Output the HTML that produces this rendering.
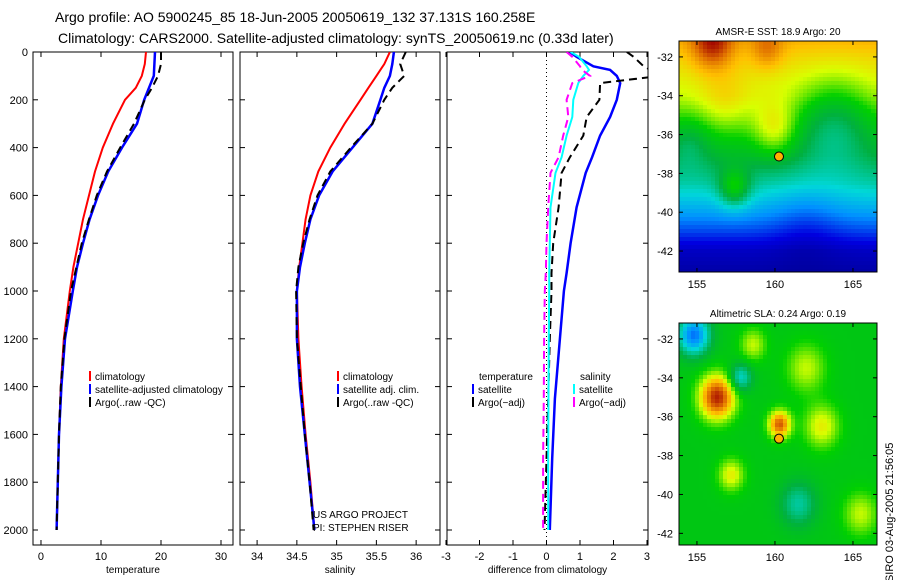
<!DOCTYPE html>
<html><head><meta charset="utf-8"><style>
body{margin:0;background:#fff}
svg{display:block;font-family:"Liberation Sans",sans-serif}
</style></head><body>
<svg id="c" width="900" height="580" xmlns="http://www.w3.org/2000/svg">
<text x="55" y="22" font-size="14">Argo profile: AO 5900245_85 18-Jun-2005 20050619_132 37.131S 160.258E</text>
<text x="58" y="43" font-size="14">Climatology: CARS2000. Satellite-adjusted climatology: synTS_20050619.nc (0.33d later)</text>
<text transform="translate(893,590) rotate(-90)" font-size="11">CSIRO 03-Aug-2005 21:56:05</text>
</svg>
<script>
const depths=[0,50,100,150,200,300,400,500,600,700,800,900,1000,1200,1400,1600,1800,2000];
const tClim=[17.5,17.3,16.8,15.8,14.0,12.0,10.3,9.0,8.0,7.0,6.2,5.4,4.8,3.8,3.3,3.0,2.8,2.6];
const tSat=[19.0,18.9,18.8,18.0,17.2,16.0,13.5,11.2,9.5,8.1,7.0,6.0,5.3,4.0,3.4,3.0,2.8,2.6];
const tArgo=[20.0,20.0,19.5,18.5,17.3,15.5,13.2,11.0,9.3,8.0,6.8,5.9,5.0,3.9,3.3,3.0,2.8,2.6];
const sClim=[35.67,35.6,35.5,35.4,35.3,35.1,34.92,34.77,34.67,34.61,34.57,34.53,34.5,34.52,34.56,34.61,34.67,34.72];
const sSat=[35.72,35.7,35.67,35.6,35.55,35.45,35.2,34.95,34.78,34.67,34.6,34.54,34.5,34.5,34.54,34.6,34.66,34.72];
const sArgo=[35.87,35.8,35.85,35.7,35.6,35.45,35.18,34.92,34.76,34.66,34.58,34.52,34.49,34.5,34.55,34.6,34.66,34.71];
const dDepths=[0,20,60,75,100,130,200,272,350,440,506,650,800,925,1000,1200,1450,1700,2000];
const dTsat=[0.7,0.9,1.4,1.9,2.1,2.2,2.1,1.9,1.6,1.36,1.17,0.9,0.72,0.6,0.52,0.4,0.25,0.17,0.1];
const dTargo=[2.4,2.6,2.9,3.1,3.4,1.6,1.58,1.2,1.1,0.7,0.45,0.36,0.2,0.15,0.15,0.1,0.05,0.0,-0.06];
const dSsat=[0.72,0.97,1.2,1.27,1.1,0.95,0.8,0.77,0.6,0.45,0.27,0.12,0.1,0.08,0.08,0.07,0.06,0.05,0.05];
const dSargo=[0.6,0.77,1.0,1.06,1.3,0.77,0.6,0.65,0.5,0.36,0.12,0.05,0.0,-0.02,-0.05,-0.07,-0.08,-0.1,-0.1];
const tTicks=[0,10,20,30], sTicks=[34,34.5,35,35.5,36], dTicks=[-3,-2,-1,0,1,2,3], zTicks=[0,200,400,600,800,1000,1200,1400,1600,1800,2000];
const latTicks=[-32,-34,-36,-38,-40,-42], lonTicks=[155,160,165];
const sstLat=[-43.5,-42,-41,-40,-38.5,-37,-35.5,-34,-32,-31];
const sstBase=[0.03,0.1,0.22,0.33,0.47,0.58,0.66,0.74,0.8,0.84];

const svg=document.getElementById('c');const NS='http://www.w3.org/2000/svg';
function mk(t,a,p){const e=document.createElementNS(NS,t);for(const k in a)e.setAttribute(k,a[k]);(p||svg).appendChild(e);return e;}
const yOf=d=>52+d*0.239;
const Y0=52,Y1=545;
function panel(x0,x1,xmin,xmax,ticks,label,name,showY,tickFmt){
  const g=mk('g',{});
  const sx=v=>x0+(v-xmin)/(xmax-xmin)*(x1-x0);
  const clipId=name+'-clip';const cp=mk('clipPath',{id:clipId},g);mk('rect',{x:x0,y:Y0,width:x1-x0,height:Y1-Y0},cp);
  ticks.forEach(t=>{const x=sx(t);mk('line',{x1:x,x2:x,y1:Y1,y2:Y1-5,stroke:'#000'},g);mk('line',{x1:x,x2:x,y1:Y0,y2:Y0+5,stroke:'#000'},g);
    const tx=mk('text',{x:x,y:Y1+15,'font-size':11,'text-anchor':'middle'},g);tx.textContent=tickFmt?tickFmt(t):t;
    });
  zTicks.forEach(z=>{const y=yOf(z);mk('line',{x1:x0,x2:x0+5,y1:y,y2:y,stroke:'#000'},g);mk('line',{x1:x1,x2:x1-5,y1:y,y2:y,stroke:'#000'},g);
    if(showY){const tx=mk('text',{x:x0-5,y:y+4,'font-size':11,'text-anchor':'end'},g);tx.textContent=z;
    }});
  const xl=mk('text',{x:(x0+x1)/2,y:Y1+28,'font-size':10,'text-anchor':'middle'},g);xl.textContent=label;
  
  mk('rect',{x:x0,y:Y0,width:x1-x0,height:Y1-Y0,fill:'none',stroke:'#000'},g);
  return {g,sx,clipId};
}
function series(P,vals,dep,color,dash,w,name){
  const pts=vals.map((v,i)=>P.sx(v).toFixed(1)+','+yOf(dep[i]).toFixed(1)).join(' ');
  const l=mk('polyline',{points:pts,fill:'none',stroke:color,'stroke-width':w,'clip-path':'url(#'+P.clipId+')'},P.g);
  if(dash)l.setAttribute('stroke-dasharray',dash);
  
}
function legend(P,x,y,items){
  items.forEach((it,i)=>{const yy=y+i*13;mk('line',{x1:x,x2:x,y1:yy-5,y2:yy+5,stroke:it[1],'stroke-width':2},P.g);
    const t=mk('text',{x:x+5,y:yy+4,'font-size':10},P.g);t.textContent=it[0];
    });
}
const P1=panel(33,233,-1.33,32,tTicks,'temperature','temperature-panel',true);
series(P1,tClim,depths,'#f00',null,2,'temp-climatology-line');
series(P1,tSat,depths,'#00f',null,2.5,'temp-satellite-line');
series(P1,tArgo,depths,'#000','8,5',2,'temp-argo-line');
legend(P1,90,376,[['climatology','#f00'],['satellite-adjusted climatology','#00f'],['Argo(..raw  -QC)','#000']]);
const P2=panel(240,440,33.785,36.3,sTicks,'salinity','salinity-panel',false);
series(P2,sClim,depths,'#f00',null,2,'sal-climatology-line');
series(P2,sSat,depths,'#00f',null,2.5,'sal-satellite-line');
series(P2,sArgo,depths,'#000','8,5',2,'sal-argo-line');
legend(P2,338,376,[['climatology','#f00'],['satellite adj. clim.','#00f'],['Argo(..raw  -QC)','#000']]);
let t=mk('text',{x:313,y:518,'font-size':10});t.textContent='US ARGO PROJECT';
t=mk('text',{x:313,y:531,'font-size':10});t.textContent='PI: STEPHEN RISER';
const P3=panel(447,648,-2.97,3.03,dTicks,'difference from climatology','difference-panel',false,v=>v);
mk('line',{x1:P3.sx(0),x2:P3.sx(0),y1:Y0,y2:Y1,stroke:'#000','stroke-dasharray':'1,3'},P3.g);
series(P3,dTsat,dDepths,'#00f',null,2.5,'diff-temp-satellite-line');
series(P3,dTargo,dDepths,'#000','8,5',2,'diff-temp-argo-line');
series(P3,dSsat,dDepths,'#0ff',null,2,'diff-sal-satellite-line');
series(P3,dSargo,dDepths,'#f0f','8,5',2,'diff-sal-argo-line');
t=mk('text',{x:479,y:380,'font-size':10},P3.g);t.textContent='temperature';
t=mk('text',{x:580,y:380,'font-size':10},P3.g);t.textContent='salinity';
legend(P3,473,389,[['satellite','#00f'],['Argo(−adj)','#000']]);
legend(P3,574,389,[['satellite','#0ff'],['Argo(−adj)','#f0f']]);

// maps
const stops=[[0,[0,0,138]],[0.15,[0,0,224]],[0.3,[0,144,255]],[0.42,[0,216,216]],[0.55,[0,176,64]],[0.65,[0,208,0]],[0.75,[216,255,0]],[0.82,[255,192,0]],[0.9,[224,112,0]],[1,[160,0,0]]];
function jet(v){v=Math.max(0,Math.min(1,v));for(let i=1;i<stops.length;i++){if(v<=stops[i][0]){const a=stops[i-1],b=stops[i],f=(v-a[0])/(b[0]-a[0]);return 'rgb('+a[1].map((c,k)=>Math.round(c+(b[1][k]-c)*f)).join(',')+')';}}return 'rgb(160,0,0)';}
function interp(xs,ys,x){if(x<=xs[0])return ys[0];for(let i=1;i<xs.length;i++)if(x<=xs[i]){const f=(x-xs[i-1])/(xs[i]-xs[i-1]);return ys[i-1]+f*(ys[i]-ys[i-1]);}return ys[ys.length-1];}
const G=(lo,la,x,y,r,a)=>a*Math.exp(-((lo-x)**2+(la-y)**2)/(2*r*r));
const sstField=(lo,la)=>interp(sstLat,sstBase,la)+G(lo,la,156,-31.3,0.9,0.16)+G(lo,la,159.5,-31.6,0.7,0.08)+G(lo,la,160,-35.8,1.0,0.12)+G(lo,la,163.8,-35.5,1.6,-0.14)+G(lo,la,157.4,-38.8,0.7,0.2)+G(lo,la,156.8,-34.5,1.2,0.06)+G(lo,la,154.5,-36.5,0.9,-0.08)+G(lo,la,162,-40.5,1.5,-0.06);
const slaField=(lo,la)=>0.62+G(lo,la,156.3,-35,0.8,0.35)+G(lo,la,160.3,-36.4,0.5,0.3)+G(lo,la,154.8,-31.8,0.7,-0.35)+G(lo,la,157.8,-34,0.5,-0.2)+G(lo,la,157.2,-39,0.6,0.15)+G(lo,la,163,-36.5,0.8,0.15)+G(lo,la,162,-33.5,0.9,0.12)+G(lo,la,158.6,-32.3,0.6,0.12)+G(lo,la,161.5,-40.5,0.8,-0.15)+G(lo,la,165.5,-41,0.8,0.12);
function map(x0,y0,x1,y1,lon0,lon1,lat0,lat1,field,title,name){
  const g=mk('g',{});
  const sx=v=>x0+(v-lon0)/(lon1-lon0)*(x1-x0), sy=v=>y0+(lat0-v)/(lat0-lat1)*(y1-y0);
  const cw=4,ch=4;
  for(let y=y0;y<y1;y+=ch)for(let x=x0;x<x1;x+=cw){const lo=lon0+(x+2-x0)/(x1-x0)*(lon1-lon0),la=lat0-(y+2-y0)/(y1-y0)*(lat0-lat1);
    mk('rect',{x:x,y:y,width:Math.min(cw,x1-x),height:Math.min(ch,y1-y),fill:jet(field(lo,la))},g);}
  latTicks.forEach(l=>{const y=sy(l);mk('line',{x1:x0,x2:x0+4,y1:y,y2:y,stroke:'#000'},g);mk('line',{x1:x1,x2:x1-4,y1:y,y2:y,stroke:'#000'},g);
    const tx=mk('text',{x:x0-6,y:y+4,'font-size':11,'text-anchor':'end'},g);tx.textContent=l;});
  lonTicks.forEach(l=>{const x=sx(l);mk('line',{x1:x,x2:x,y1:y1,y2:y1-4,stroke:'#000'},g);mk('line',{x1:x,x2:x,y1:y0,y2:y0+4,stroke:'#000'},g);
    const tx=mk('text',{x:x,y:y1+16,'font-size':11,'text-anchor':'middle'},g);tx.textContent=l;});
  mk('rect',{x:x0,y:y0,width:x1-x0,height:y1-y0,fill:'none',stroke:'#000'},g);
  const c=mk('circle',{cx:sx(160.258),cy:sy(-37.131),r:4.5,fill:'#ffb000',stroke:'#000'},g);
  const tt=mk('text',{x:(x0+x1)/2,y:y0-6,'font-size':10,'text-anchor':'middle'},g);tt.textContent=title;
}
map(679,41,877,272,153.85,166.54,-31.18,-43.08,sstField,'AMSR-E SST: 18.9 Argo: 20','sst-map');
map(679,323,877,545,153.85,166.54,-31.18,-42.6,slaField,'Altimetric SLA: 0.24 Argo: 0.19','sla-map');
</script>
</body></html>
